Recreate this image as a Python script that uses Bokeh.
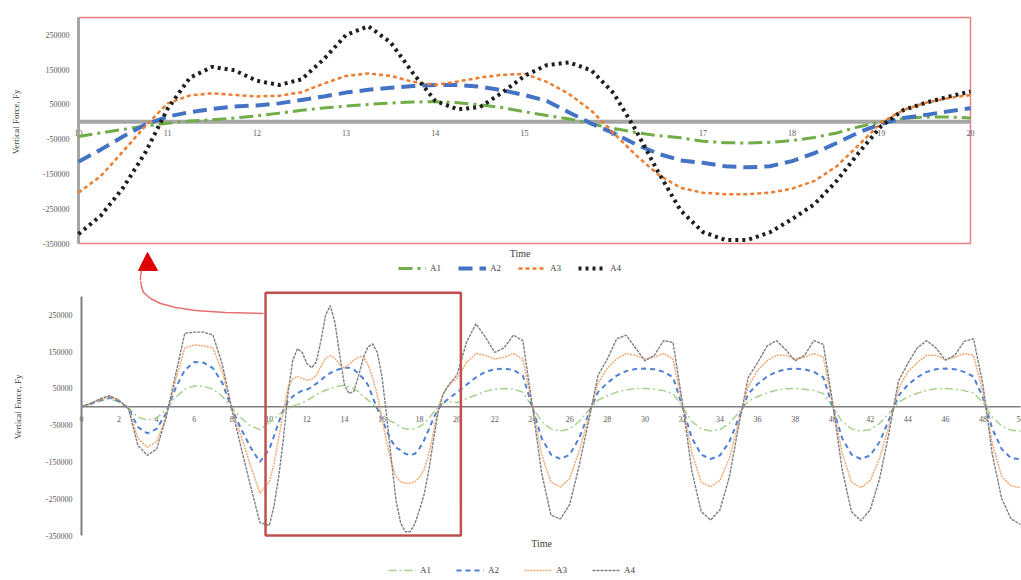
import numpy as np
from bokeh.plotting import figure
from bokeh.models import (BoxAnnotation, PolyAnnotation, Legend, LegendItem,
                          ColumnDataSource, Range1d)
from bokeh.layouts import column
from bokeh.embed import file_html
from bokeh.resources import INLINE
from bokeh.core.properties import value

# ---------------------------------------------------------------- data
# time grid: 0.5 s steps, refined to 0.25 s inside the 10-20 s window
time = np.concatenate([np.arange(0, 10, 0.5),
                       np.arange(10, 20.001, 0.25),
                       np.arange(20.5, 50.001, 0.5)])

# vertical force Fy in kN (x1000 -> N when plotted)
A1 = [0, 7, 16, 22, 13, -3, -28, -36, -30, -8, 25, 48, 57, 56, 48, 28, -3, -30, -52, -62,
      -42, -32, -22, -12, -4, 2, 6, 11, 17, 25, 33, 40, 45, 50, 54, 57, 58, 55, 49, 41,
      29, 18, 8, -6, -19, -31, -40, -46, -56, -60, -61, -59, -54, -45, -32, -14, 0, 10, 14, 14, 11,
      22, 32, 42, 48, 50, 48, 40, 0,
      -40, -60, -66, -60, -40, -10, 18, 30,
      40, 46, 50, 50, 48, 44, 36, 0,
      -40, -60, -66, -62, -45, -15, 15, 28,
      38, 45, 49, 50, 48, 44, 36, 0,
      -40, -60, -66, -62, -45, -18, 12, 27,
      37, 45, 49, 50, 48, 44, 38, 12,
      -28, -52, -64, -66]

A2 = [0, 8, 18, 25, 15, -4, -55, -72, -60, -18, 50, 100, 122, 120, 105, 65, -5, -60, -110, -150,
      -115, -80, -42, -8, 15, 28, 37, 44, 47, 53, 63, 73, 84, 92, 98, 103, 106, 106, 101, 91,
      77, 60, 27, -5, -33, -65, -92, -111, -118, -128, -131, -128, -113, -90, -61, -30, -6, 11, 20, 30, 39,
      60, 80, 95, 102, 104, 100, 85, 0,
      -85, -130, -142, -130, -85, -20, 40, 65,
      85, 97, 103, 104, 102, 95, 80, 0,
      -85, -130, -142, -132, -95, -30, 35, 62,
      82, 95, 102, 104, 102, 95, 80, 0,
      -85, -130, -142, -132, -95, -35, 30, 60,
      80, 95, 102, 104, 102, 95, 82, 25,
      -60, -115, -140, -142]

A3 = [0, 9, 20, 28, 17, -5, -85, -110, -95, -28, 70, 160, 168, 166, 160, 95, -5, -80, -160, -235,
      -204, -156, -85, -12, 53, 76, 82, 77, 73, 75, 85, 110, 132, 139, 132, 115, 106, 116, 127, 135,
      138, 115, 80, 32, -33, -96, -152, -190, -204, -208, -208, -204, -192, -170, -128, -66, -2, 34, 55, 68, 77,
      120, 145, 140, 130, 135, 145, 130, 5,
      -130, -205, -218, -195, -120, -30, 65, 105,
      130, 145, 140, 130, 135, 145, 130, 5,
      -125, -205, -218, -200, -140, -40, 55, 100,
      125, 140, 140, 130, 135, 145, 135, 5,
      -125, -205, -220, -200, -140, -50, 50, 95,
      120, 140, 140, 128, 135, 145, 140, 40,
      -100, -190, -215, -220]

A4 = [0, 10, 22, 30, 18, -5, -105, -132, -115, -30, 85, 200, 203, 203, 195, 115, -5, -111, -215, -315,
      -323, -270, -190, -88, 38, 127, 158, 148, 118, 106, 122, 180, 250, 275, 228, 140, 60, 36, 42, 84,
      132, 163, 171, 148, 82, -25, -145, -255, -317, -340, -340, -318, -280, -237, -170, -88, -12, 34, 55, 72, 87,
      175, 226, 190, 148, 160, 195, 180, 5,
      -180, -295, -305, -265, -160, -40, 85, 130,
      185, 195, 160, 125, 140, 180, 175, 10,
      -175, -285, -308, -280, -190, -50, 80, 120,
      165, 180, 155, 125, 140, 180, 170, 10,
      -170, -285, -310, -280, -195, -70, 70, 118,
      160, 180, 160, 127, 140, 178, 185, 60,
      -130, -250, -305, -320]

series_names = ["A1", "A2", "A3", "A4"]
y_ticks = [-350000, -250000, -150000, -50000, 50000, 150000, 250000]
zoom_time_ticks = [10, 11, 12, 13, 14, 15, 16, 17, 18, 19, 20]
full_time_ticks = list(range(0, 51, 2))
Y_MIN, Y_MAX = -350000, 300000

forces = {n: np.array(v) * 1000.0 for n, v in zip(series_names, [A1, A2, A3, A4])}
full_source = ColumnDataSource(dict(t=time, **forces))
in_window = (time >= 10) & (time <= 20)
zoom_source = ColumnDataSource(dict(t=time[in_window],
                                    **{n: v[in_window] for n, v in forces.items()}))

SERIF = "Liberation Serif"
LABEL_GREY = "#595959"
TITLE_GREY = "#404040"
W = 1021


# ---------------------------------------------------------------- helpers
def panel(height, x0, x1, px_left, px_right, px_top, px_bottom):
    """Figure whose frame fills the canvas; the plotting box sits at the given pixels."""
    xs = (x1 - x0) / (px_right - px_left)
    ys = (Y_MAX - Y_MIN) / (px_bottom - px_top)
    p = figure(width=W, height=height,
               x_range=Range1d(x0 - px_left * xs, x0 + (W - px_left) * xs),
               y_range=Range1d(Y_MIN - (height - px_bottom) * ys, Y_MAX + px_top * ys),
               x_axis_location=None, y_axis_location=None,
               output_backend="svg", toolbar_location=None, min_border=0)
    p.outline_line_color = None
    p.xgrid.visible = False
    p.ygrid.visible = False
    p.background_fill_color = "white"
    p.border_fill_color = "white"
    return p


def axis_texts(p, x_left, ticks_x, x_label_pos, tick_drop, time_drop, title_shift):
    # value labels of the vertical axis
    p.text(x=[x_left] * len(y_ticks), y=y_ticks, text=[str(v) for v in y_ticks],
           text_font=value(SERIF), text_font_size="8px", text_color=LABEL_GREY,
           text_align="right", text_baseline="middle", x_offset=-9)
    # time labels under the zero line
    p.text(x=ticks_x, y=[0] * len(ticks_x), text=[str(v) for v in ticks_x],
           text_font=value(SERIF), text_font_size="8px", text_color=LABEL_GREY,
           text_align="center", text_baseline="middle", y_offset=tick_drop)
    p.text(x=[x_left], y=[0], text=["Vertical Force, Fy"], angle=np.pi / 2,
           text_font=value(SERIF), text_font_size="9px", text_color=TITLE_GREY,
           text_align="center", text_baseline="middle", x_offset=title_shift)
    p.text(x=[x_label_pos], y=[Y_MIN], text=["Time"],
           text_font=value(SERIF), text_font_size="10px", text_color=TITLE_GREY,
           text_align="center", text_baseline="middle", y_offset=time_drop)


def add_legend(p, renderers, loc, spacing):
    items = [LegendItem(label=n, renderers=[r]) for n, r in zip(series_names, renderers)]
    leg = Legend(items=items, orientation="horizontal", location=loc,
                 label_text_font=SERIF, label_text_font_size="9px",
                 label_text_color=TITLE_GREY, glyph_width=28, glyph_height=10,
                 label_height=10, label_standoff=4, spacing=spacing, padding=0,
                 margin=0, border_line_color=None, background_fill_alpha=0)
    p.add_layout(leg)


# ---------------------------------------------------------------- zoomed view (10-20 s)
TOP_H = 280
top = panel(TOP_H, 10, 20, 78, 970, 17, 243)
top.quad(left=[10], right=[20], bottom=[Y_MIN], top=[Y_MAX], fill_color=None,
         line_color="#e88080", line_width=1.5)
axis_texts(top, 10, zoom_time_ticks, 14.95, 11, 10, -63)
top.segment(x0=[10], y0=[0], x1=[20], y1=[0], line_color="#a6a6a6", line_width=4)
top.segment(x0=[10], y0=[Y_MIN], x1=[10], y1=[Y_MAX], line_color="#a6a6a6", line_width=3)

top_styles = [
    dict(line_color="#70ad47", line_width=3, line_dash="14 5 3 5"),
    dict(line_color="#4472c4", line_width=4, line_dash="14 7"),
    dict(line_color="#ed7d31", line_width=2.5, line_dash="4 3"),
    dict(line_color="#1f1f1f", line_width=4, line_dash="3 4"),
]
top_r = [top.line("t", n, source=zoom_source, **s) for n, s in zip(series_names, top_styles)]
add_legend(top, top_r, (398, 7), 8)

# pointer arrow head (screen px measured from the canvas' lower-left corner)
top.add_layout(PolyAnnotation(xs=[147, 138, 157], ys=[TOP_H - 252, TOP_H - 270, TOP_H - 270],
                              xs_units="screen", ys_units="screen",
                              fill_color="#e00000", fill_alpha=1, line_color="#e00000",
                              line_alpha=1, line_width=1))
stem = [(141, 270), (140, 276), (140, 281)]
stem = stem + stem[::-1]
top.add_layout(PolyAnnotation(xs=[q[0] for q in stem], ys=[TOP_H - q[1] for q in stem],
                              xs_units="screen", ys_units="screen",
                              fill_alpha=0, line_color="#e87070", line_alpha=1, line_width=1.5))

# ---------------------------------------------------------------- full record (0-50 s)
BOT_H = 300
bottom = panel(BOT_H, 0, 50, 81, 1020, 16, 255)
axis_texts(bottom, 0, full_time_ticks, 24.5, 12, 8, -64)
bottom.segment(x0=[0], y0=[0], x1=[50], y1=[0], line_color="#7f7f7f", line_width=1.5)
bottom.segment(x0=[0], y0=[Y_MIN], x1=[0], y1=[Y_MAX], line_color="#7f7f7f", line_width=2)

bottom_styles = [
    dict(line_color="#a9d18e", line_width=1.5, line_dash="8 3 2 3"),
    dict(line_color="#4f81d6", line_width=2, line_dash="5 4"),
    dict(line_color="#f4a870", line_width=1.5, line_dash="2 1"),
    dict(line_color="#7f7f7f", line_width=1.4, line_dash="3 1"),
]
bot_r = [bottom.line("t", n, source=full_source, **s) for n, s in zip(series_names, bottom_styles)]
add_legend(bottom, bot_r, (388, 5), 16)

# window shown in the zoomed view
bottom.add_layout(BoxAnnotation(left=9.8, right=20.2, bottom=Y_MIN, top=310000,
                                fill_alpha=0, line_color="#c0504d", line_alpha=1,
                                line_width=2.5))

# lower part of the pointer, running to the window's corner (page y minus TOP_H)
arc = [(140, 280), (141, 286), (143, 292), (150, 298), (160, 303),
       (175, 307), (195, 310), (225, 312), (263, 313)]
arc = arc + arc[::-1]
bottom.add_layout(PolyAnnotation(xs=[q[0] for q in arc],
                                 ys=[BOT_H - (q[1] - TOP_H) for q in arc],
                                 xs_units="screen", ys_units="screen",
                                 fill_alpha=0, line_color="#e87070", line_alpha=1,
                                 line_width=1.5))

layout = column(top, bottom, spacing=0)
open("out.html", "w").write(file_html(layout, INLINE))
